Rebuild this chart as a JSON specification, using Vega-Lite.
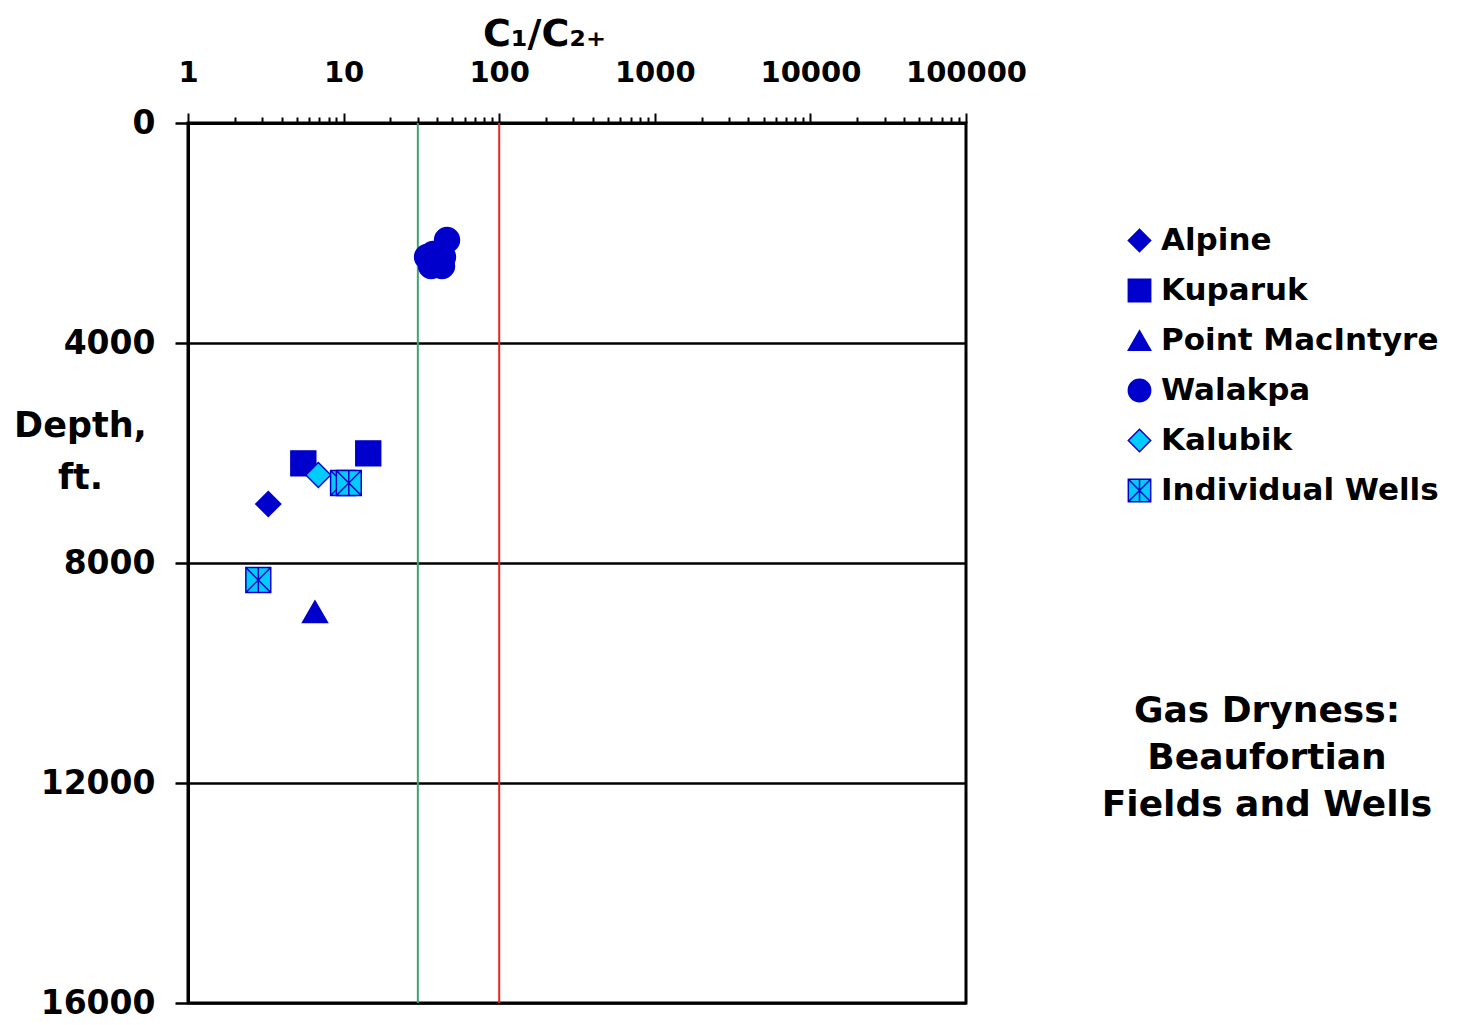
{
  "$schema": "https://vega.github.io/schema/vega-lite/v6.json",
  "width": 778,
  "height": 880,
  "autosize": {"type": "none"},
  "padding": {"left": 188, "top": 123, "right": 492, "bottom": 22},
  "background": "white",
  "config": {
    "font": "DejaVu Sans",
    "view": {"stroke": "black", "strokeWidth": 3},
    "legend": {
      "orient": "none",
      "legendX": 936,
      "legendY": 102,
      "labelFontSize": 31,
      "labelFontWeight": "bold",
      "labelColor": "black",
      "labelFont": "DejaVu Sans",
      "symbolSize": 500,
      "rowPadding": 18,
      "labelOffset": 6,
      "symbolStrokeWidth": 1.5,
      "labelLimit": 400
    }
  },
  "title": {
    "text": ["Gas Dryness:", "Beaufortian", "Fields and Wells"],
    "orient": "bottom",
    "anchor": "start",
    "frame": "group",
    "align": "center",
    "dx": 1079,
    "dy": -326,
    "offset": 0,
    "fontSize": 36,
    "fontWeight": "bold",
    "color": "black",
    "lineHeight": 47,
    "font": "DejaVu Sans"
  },
  "encoding": {
    "x": {
      "field": "ratio",
      "type": "quantitative",
      "scale": {"type": "log", "domain": [1, 100000]},
      "axis": {
        "orient": "top",
        "values": [1,2,3,4,5,6,7,8,9,10,20,30,40,50,60,70,80,90,100,200,300,400,500,600,700,800,900,1000,2000,3000,4000,5000,6000,7000,8000,9000,10000,20000,30000,40000,50000,60000,70000,80000,90000,100000],
        "labelExpr": "indexof([1,10,100,1000,10000,100000], datum.value) >= 0 ? format(datum.value, 'd') : ''",
        "tickSize": {"condition": {"test": "indexof([1,10,100,1000,10000,100000], datum.value) >= 0", "value": 10}, "value": 6},
        "tickColor": "black",
        "tickWidth": 2,
        "domainColor": "black",
        "domainWidth": 3,
        "grid": false,
        "labelFontSize": 29,
        "labelFontWeight": "bold",
        "labelColor": "black",
        "labelPadding": 26,
        "labelFlush": false,
        "labelOverlap": false,
        "title": "C₁/C₂₊",
        "titleFontSize": 38,
        "titleFontWeight": "bold",
        "titleColor": "black",
        "titleX": 356,
        "titleY": -78,
        "titleAlign": "center",
        "titleBaseline": "alphabetic"
      }
    }
  },
  "layer": [
    {
      "data": {"values": [{"ratio": 30}]},
      "mark": {"type": "rule", "color": "#3fa46e", "strokeWidth": 2},
      "encoding": {}
    },
    {
      "data": {"values": [{"ratio": 100}]},
      "mark": {"type": "rule", "color": "#e8261f", "strokeWidth": 2},
      "encoding": {}
    },
    {
      "data": {
        "values": [
          {"field": "Walakpa", "ratio": 34.4, "depth": 2436},
          {"field": "Walakpa", "ratio": 37.6, "depth": 2382},
          {"field": "Walakpa", "ratio": 43.5, "depth": 2436},
          {"field": "Walakpa", "ratio": 36.5, "depth": 2600},
          {"field": "Walakpa", "ratio": 42.9, "depth": 2600},
          {"field": "Walakpa", "ratio": 46.2, "depth": 2127},
          {"field": "Alpine", "ratio": 3.28, "depth": 6927},
          {"field": "Kuparuk", "ratio": 5.51, "depth": 6188},
          {"field": "Kuparuk", "ratio": 14.4, "depth": 6006},
          {"field": "Point MacIntyre", "ratio": 6.55, "depth": 8885},
          {"field": "Kalubik", "ratio": 6.88, "depth": 6400},
          {"field": "Individual Wells", "ratio": 9.92, "depth": 6545},
          {"field": "Individual Wells", "ratio": 10.8, "depth": 6545},
          {"field": "Individual Wells", "ratio": 2.83, "depth": 8309}
        ]
      },
      "mark": {"type": "point", "size": 620, "strokeWidth": 1.5, "opacity": 1},
      "encoding": {
        "y": {
          "field": "depth",
          "type": "quantitative",
          "scale": {"domain": [0, 16000], "reverse": true, "nice": false},
          "axis": {
            "values": [0, 4000, 8000, 12000, 16000],
            "format": "d",
            "grid": true,
            "gridColor": "black",
            "gridWidth": 2.5,
            "gridOpacity": 1,
            "tickColor": "black",
            "tickSize": 13,
            "tickWidth": 2.5,
            "domainColor": "black",
            "domainWidth": 3,
            "labelFontSize": 33,
            "labelFontWeight": "bold",
            "labelColor": "black",
            "labelPadding": 20,
            "labelFlush": false,
            "labelOverlap": false,
            "title": ["Depth,", "ft."],
            "titleFontSize": 35,
            "titleFontWeight": "bold",
            "titleColor": "black",
            "titleAngle": 0,
            "titleX": -108,
            "titleY": 313,
            "titleAlign": "center",
            "titleBaseline": "alphabetic",
            "titleLineHeight": 52
          }
        },
        "shape": {
          "field": "field",
          "type": "nominal",
          "scale": {
            "domain": ["Alpine", "Kuparuk", "Point MacIntyre", "Walakpa", "Kalubik", "Individual Wells"],
            "range": ["diamond", "square", "triangle-up", "circle", "diamond", "M-1,-1H1V1H-1Z M-1,-1L1,1 M-1,1L1,-1 M0,-1V1"]
          },
          "legend": {"title": null}
        },
        "fill": {
          "field": "field",
          "type": "nominal",
          "scale": {
            "domain": ["Alpine", "Kuparuk", "Point MacIntyre", "Walakpa", "Kalubik", "Individual Wells"],
            "range": ["#0000cc", "#0000cc", "#0000cc", "#0000cc", "#00ccff", "#00ccff"]
          },
          "legend": {"title": null}
        },
        "stroke": {
          "field": "field",
          "type": "nominal",
          "scale": {
            "domain": ["Alpine", "Kuparuk", "Point MacIntyre", "Walakpa", "Kalubik", "Individual Wells"],
            "range": ["#0000cc", "#0000cc", "#0000cc", "#0000cc", "#0000cc", "#0000cc"]
          },
          "legend": {"title": null}
        }
      }
    }
  ]
}
